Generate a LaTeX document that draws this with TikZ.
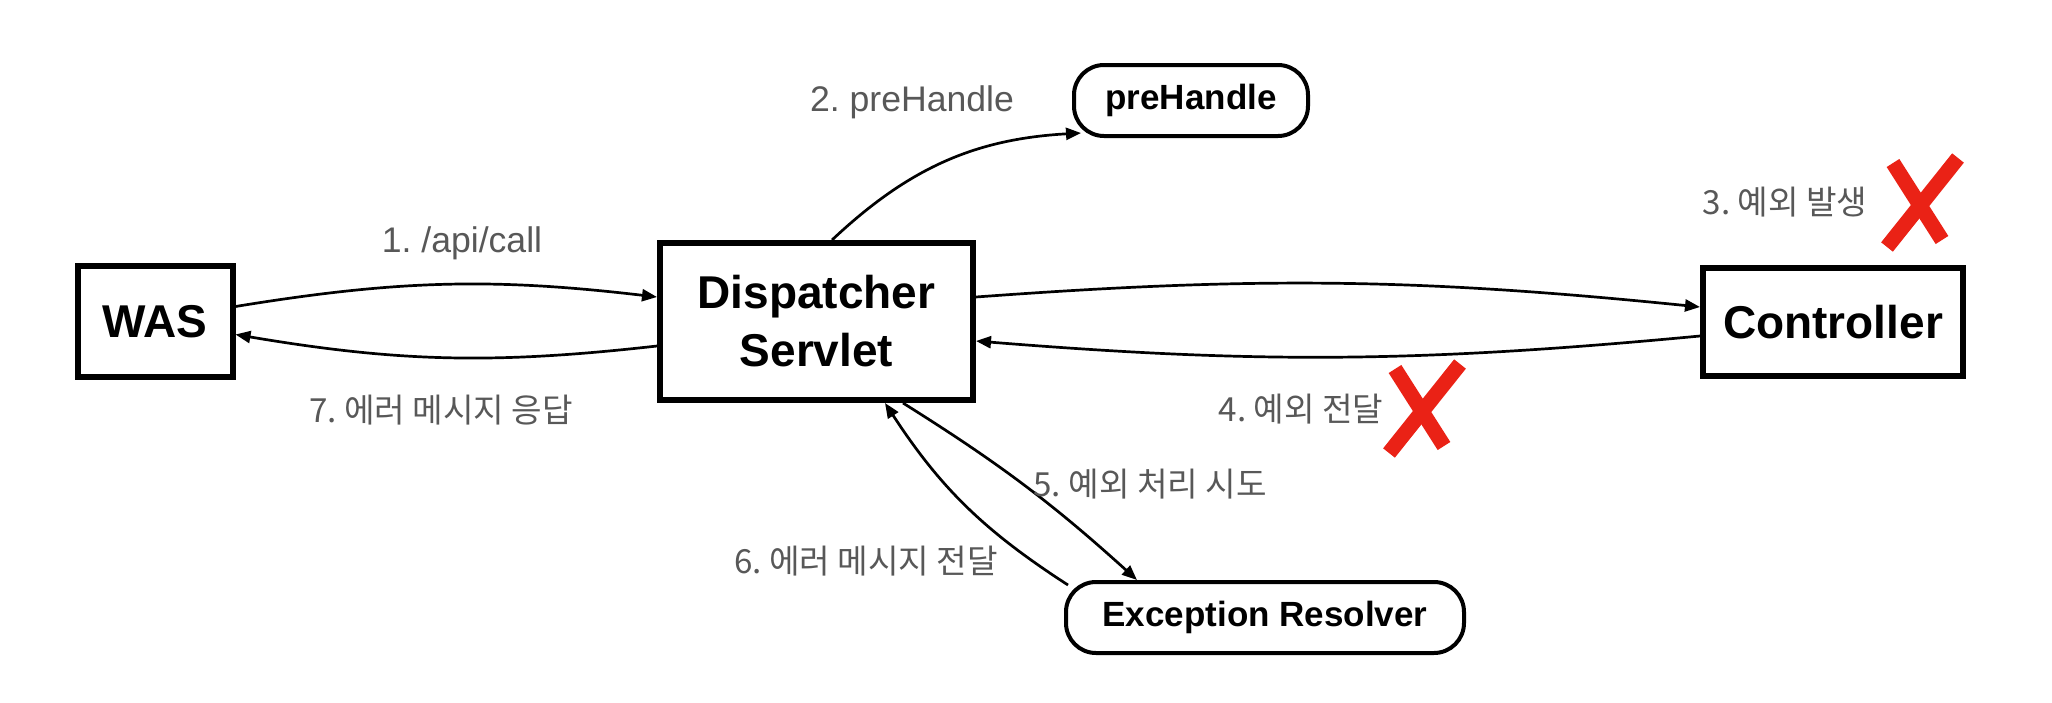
\documentclass[tikz,border=0pt]{standalone}
\usepackage{fontspec}
\setmainfont{Liberation Sans}
\newfontfamily\kofont{Noto Sans CJK KR}
\usetikzlibrary{arrows.meta,calc}
\definecolor{lblgray}{RGB}{88,88,88}
\definecolor{xred}{RGB}{234,34,22}
\frenchspacing
\begin{document}
\begin{tikzpicture}[x=0.5pt,y=0.5pt,
  bigbox/.style={draw=black,line width=3pt,fill=white,inner sep=0pt,
    font=\fontsize{23}{29}\selectfont\bfseries,align=center},
  roundbox/.style={draw=black,line width=2pt,rounded corners=15pt,inner sep=0pt,
    font=\fontsize{17.5}{21}\selectfont\bfseries,minimum height=35.5pt},
  lbl/.style={text=lblgray,inner sep=0pt,font=\fontsize{17.8}{21}\selectfont},
  kolbl/.style={text=lblgray,inner sep=0pt,font=\kofont\fontsize{16.6}{19}\selectfont},
  conn/.style={line width=1.35pt,-{Triangle[length=7.5pt,width=6pt]}},
  xmark/.style={draw=xred,line width=7.5pt}]
\useasboundingbox (0,0) rectangle (2052,-702);

% boxes
\node[bigbox,minimum width=77.5pt,minimum height=55.5pt] (was) at (155,-321.5) {WAS};
\node[bigbox,minimum width=156.5pt,minimum height=78.5pt] (ds) at (816.5,-321.5) {Dispatcher\\Servlet};
\node[bigbox,minimum width=130pt,minimum height=54pt] (ctrl) at (1833,-322) {Controller};
\node[roundbox,minimum width=117pt] (pre) at (1191,-100.5) {preHandle};
\node[roundbox,minimum width=199pt] (er) at (1265,-617.5) {Exception Resolver};

% connectors
\draw[conn] ($(was.east)+(0,15)$) to[bend left=8] ($(ds.west)+(0,24.5)$);
\draw[conn] ($(ds.west)+(0,-24.5)$) to[bend left=8] ($(was.east)+(0,-13)$);
\draw[conn] ($(ds.east)+(0,24.5)$) to[bend left=5] ($(ctrl.west)+(0,15)$);
\draw[conn] ($(ctrl.west)+(0,-14)$) to[bend left=5] ($(ds.east)+(0,-19.5)$);
\draw[conn] ($(ds.north)+(15.5,0)$) to[bend left=20] ($(pre.south west)+(9,5)$);
\draw[conn] ($(ds.south)+(86.5,0)$) to[bend left=5] ($(er.north)+(-128,0)$);
\draw[conn] ($(er.north west)+(4,-5)$) to[bend left=12] ($(ds.south)+(68.5,0)$);

% labels
\node[lbl] (l1) at (462,-243) {1. /api/call};
\node[lbl] (l2) at (912,-102) {2. preHandle};
\node[kolbl] (l3) at (1785,-202) {3. 예외 발생};
\node[kolbl] (l4) at (1301,-409) {4. 예외 전달};
\node[kolbl] (l5) at (1150,-484) {5. 예외 처리 시도};
\node[kolbl] (l6) at (866,-561) {6. 에러 메시지 전달};
\node[kolbl] (l7) at (441,-410) {7. 에러 메시지 응답};

% red crosses
\draw[xmark] (1893,-163) -- (1942,-240);
\draw[xmark] (1958,-158) -- (1887,-247);
\begin{scope}[shift={(-498,-206)}]
\draw[xmark] (1893,-163) -- (1942,-240);
\draw[xmark] (1958,-158) -- (1887,-247);
\end{scope}
\end{tikzpicture}
\end{document}
